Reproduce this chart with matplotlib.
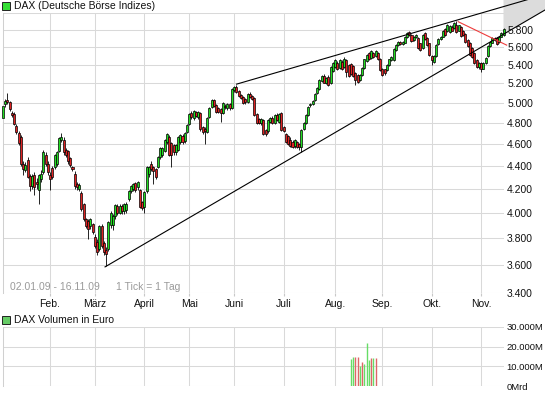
import matplotlib
matplotlib.use("Agg")
import matplotlib.pyplot as plt
import numpy as np
from matplotlib.ticker import FixedLocator, FixedFormatter, NullLocator
from matplotlib.patches import Rectangle

plt.rcParams['font.family'] = ['Liberation Sans', 'DejaVu Sans']

# ---------------- data (trading-day index 0 = 02.01.09) ----------------
opens = [4850, 4985, 5025, 5010, 4900, 4890, 4770, 4700, 4660, 4420, 4366, 4455, 4310, 4220, 4320, 4260, 4190, 4280, 4340, 4500, 4420,
         4320, 4380, 4390, 4420, 4530, 4640, 4640, 4545, 4530, 4470, 4390, 4330, 4240, 4200, 4165, 4068, 3947, 3930, 3895, 3907,
         3810, 3770, 3715, 3895, 3760, 3710, 3715, 3900, 3900, 3970, 4055, 4000, 4055, 4010, 4020, 4110, 4180, 4200, 4250, 4210, 4190, 4085,
         4050, 4180, 4330, 4420, 4390, 4370, 4390, 4480, 4500, 4530, 4620, 4660, 4610, 4590, 4520, 4545, 4620, 4670, 4630, 4715,
         4790, 4900, 4850, 4910, 4860, 4900, 4760, 4740, 4715, 4860, 4960, 5030, 4980, 4950, 4940, 4900, 4970, 4950, 4990, 4945,
         5130, 5160, 5120, 5080, 5060, 5040, 5010, 5090, 5070, 5050, 4890, 4840, 4800, 4830, 4730, 4720, 4810, 4850, 4800, 4880, 4810, 4900,
         4760, 4690, 4670, 4640, 4620, 4580, 4620, 4600, 4570, 4740, 4800, 4880, 4975, 4990, 5030, 5100, 5140, 5230, 5280, 5200, 5270, 5200, 5330,
         5380, 5420, 5370, 5430, 5380, 5450, 5400, 5410, 5390, 5310, 5290, 5240, 5290, 5370, 5440, 5530, 5480, 5530, 5500, 5530, 5470,
         5360, 5350, 5340, 5400, 5450, 5450, 5570, 5620, 5660, 5630, 5650, 5710, 5770, 5740, 5680, 5710, 5700, 5640, 5590, 5760, 5700, 5640,
         5500, 5430, 5500, 5630, 5690, 5720, 5810, 5780, 5770, 5830, 5820, 5860, 5790, 5830, 5790, 5750, 5680, 5650, 5590, 5530, 5450, 5380,
         5420, 5360, 5420, 5500, 5610, 5650, 5700, 5700, 5660, 5720, 5740]
highs = [5010, 5040, 5105, 5020, 4920, 4910, 4790, 4720, 4680, 4440, 4430, 4480, 4330, 4330, 4340, 4290, 4330, 4360, 4545, 4520, 4440,
         4340, 4400, 4510, 4530, 4665, 4700, 4660, 4560, 4540, 4480, 4400, 4350, 4260, 4250, 4180, 4080, 3960, 3950, 3960, 3920,
         3830, 3790, 3900, 3910, 3780, 3730, 3935, 4010, 3990, 4075, 4070, 4070, 4075, 4080, 4090, 4190, 4230, 4250, 4260, 4270, 4200, 4100,
         4180, 4400, 4400, 4440, 4400, 4380, 4490, 4570, 4570, 4650, 4700, 4680, 4620, 4600, 4600, 4670, 4690, 4690, 4710, 4790,
         4900, 4920, 4930, 4920, 4920, 4910, 4770, 4760, 4860, 4960, 5040, 5040, 4990, 4960, 4950, 5010, 4990, 5000, 5000, 5150,
         5170, 5185, 5130, 5090, 5070, 5050, 5100, 5110, 5080, 5060, 4900, 4850, 4850, 4840, 4740, 4840, 4860, 4870, 4890, 4900, 4900, 4910,
         4770, 4700, 4680, 4660, 4640, 4650, 4630, 4610, 4740, 4810, 4890, 4970, 5000, 5030, 5100, 5160, 5250, 5290, 5300, 5270, 5290, 5390, 5430,
         5470, 5440, 5470, 5450, 5490, 5470, 5410, 5420, 5400, 5320, 5300, 5300, 5380, 5470, 5520, 5540, 5570, 5545, 5570, 5540, 5480,
         5370, 5360, 5410, 5470, 5500, 5590, 5630, 5670, 5670, 5670, 5730, 5770, 5780, 5750, 5730, 5750, 5710, 5650, 5750, 5770, 5710, 5650,
         5510, 5510, 5630, 5700, 5730, 5800, 5820, 5870, 5850, 5850, 5890, 5900, 5860, 5840, 5800, 5760, 5690, 5660, 5600, 5540, 5460, 5430,
         5430, 5430, 5490, 5620, 5670, 5710, 5710, 5710, 5730, 5770, 5820]
lows = [4840, 4960, 4990, 4920, 4860, 4780, 4690, 4590, 4400, 4320, 4340, 4290, 4180, 4200, 4150, 4200, 4075, 4260, 4330, 4400, 4320,
        4190, 4280, 4370, 4400, 4520, 4620, 4500, 4480, 4420, 4390, 4350, 4200, 4190, 4180, 4010, 3930, 3880, 3790, 3870, 3830,
        3720, 3670, 3700, 3720, 3670, 3588, 3700, 3880, 3860, 3950, 3980, 3990, 3990, 3990, 4000, 4100, 4160, 4180, 4170, 4190, 4040, 4020,
        4000, 4160, 4300, 4350, 4236, 4280, 4380, 4460, 4480, 4520, 4600, 4490, 4390, 4500, 4500, 4530, 4600, 4600, 4610, 4700,
        4780, 4840, 4830, 4860, 4840, 4720, 4690, 4600, 4700, 4850, 4950, 4960, 4900, 4900, 4810, 4890, 4940, 4930, 4930, 4940,
        5110, 5100, 5060, 5040, 4990, 4990, 5000, 5050, 5030, 4870, 4790, 4790, 4780, 4680, 4670, 4700, 4800, 4790, 4790, 4820, 4800, 4720,
        4710, 4610, 4590, 4570, 4560, 4560, 4560, 4545, 4525, 4730, 4790, 4870, 4960, 4980, 5020, 5090, 5130, 5220, 5200, 5190, 5170, 5190, 5320,
        5370, 5340, 5360, 5340, 5370, 5270, 5270, 5290, 5270, 5180, 5210, 5230, 5280, 5360, 5430, 5450, 5470, 5480, 5490, 5450, 5330,
        5280, 5290, 5330, 5390, 5440, 5440, 5560, 5610, 5620, 5620, 5640, 5700, 5730, 5660, 5670, 5700, 5580, 5560, 5580, 5680, 5610, 5500,
        5400, 5420, 5490, 5620, 5680, 5710, 5730, 5770, 5760, 5780, 5810, 5760, 5780, 5720, 5730, 5650, 5600, 5500, 5480, 5410, 5370, 5360,
        5320, 5350, 5410, 5490, 5600, 5640, 5670, 5620, 5650, 5710, 5730]
closes = [4970, 5015, 5010, 4935, 4875, 4790, 4715, 4610, 4420, 4370, 4410, 4300, 4220, 4310, 4210, 4236, 4320, 4330, 4525, 4420, 4340,
          4280, 4300, 4500, 4520, 4655, 4660, 4520, 4500, 4440, 4410, 4375, 4220, 4210, 4230, 4027, 3947, 3895, 3868, 3947, 3845,
          3740, 3690, 3890, 3740, 3690, 3680, 3925, 3995, 3970, 4060, 4000, 4055, 4010, 4070, 4070, 4180, 4220, 4240, 4190, 4260, 4050, 4040,
          4170, 4390, 4390, 4370, 4350, 4300, 4480, 4560, 4560, 4640, 4690, 4500, 4500, 4520, 4590, 4660, 4680, 4620, 4700, 4780,
          4890, 4860, 4920, 4870, 4910, 4740, 4710, 4720, 4850, 4950, 5030, 4970, 4910, 4910, 4900, 5000, 4955, 4990, 4945, 5140,
          5160, 5110, 5070, 5050, 5000, 5010, 5090, 5060, 5040, 4880, 4800, 4800, 4840, 4690, 4690, 4830, 4850, 4800, 4880, 4830, 4890, 4730,
          4720, 4620, 4600, 4580, 4570, 4640, 4575, 4575, 4730, 4800, 4880, 4960, 4985, 5020, 5095, 5150, 5240, 5280, 5210, 5260, 5180, 5380, 5420,
          5450, 5350, 5450, 5350, 5470, 5320, 5280, 5300, 5280, 5240, 5220, 5290, 5370, 5460, 5510, 5460, 5560, 5490, 5560, 5460, 5340,
          5290, 5310, 5400, 5460, 5490, 5580, 5620, 5660, 5630, 5660, 5720, 5760, 5740, 5670, 5720, 5740, 5590, 5570, 5740, 5690, 5620, 5510,
          5450, 5500, 5620, 5690, 5720, 5790, 5740, 5860, 5840, 5790, 5880, 5770, 5850, 5730, 5740, 5660, 5610, 5510, 5490, 5420, 5380, 5420,
          5350, 5420, 5480, 5610, 5660, 5700, 5680, 5630, 5720, 5760, 5810]

month_idx = [21, 41, 63, 83, 103, 125, 148, 169, 191, 213]
month_labels = ["Feb.", "März", "April", "Mai", "Juni", "Juli", "Aug.", "Sep.", "Okt.", "Nov."]
price_ticks = [3400, 3600, 3800, 4000, 4200, 4400, 4600, 4800, 5000, 5200, 5400, 5600, 5800, 6000]
price_labels = ["3.400", "3.600", "3.800", "4.000", "4.200", "4.400", "4.600", "4.800", "5.000",
                "5.200", "5.400", "5.600", "5.800", ""]

vol_idx = [155, 156, 157, 158, 159, 160, 161, 162, 163, 164, 165, 166]
vol_values = [13700, 14700, 14700, 14700, 10100, 12100, 11100, 21900, 13200, 14200, 14200, 14200]
vol_up = [1, 1, 0, 0, 1, 0, 1, 1, 1, 0, 1, 0]
vol_ticks = [0, 10000, 20000, 30000]
vol_labels = ["0Mrd", "10.000M", "20.000M", "30.000M"]

# trend lines: (trading-day index, price) anchors
upper_trend = [(104.1, 5193), (194.7, 5855)]
lower_trend = [(45.5, 3583), (133.1, 4524)]
red_trend = [(202.8, 5895), (224.4, 5621)]

# ---------------- layout ----------------
W, H = 545, 395
fig = plt.figure(figsize=(W / 100, H / 100), dpi=100)
fig.patch.set_facecolor('white')


def fx(px):
    return px / W


def fy(py):
    return 1 - py / H


GRID = '#d9d9d9'
GREEN = '#22dd22'
RED = '#dd2222'
FS = 7.5
XMIN = -0.18
XMAX = XMIN + 501 / 2.245

ax = fig.add_axes([fx(2.5), fy(292.7), fx(503.5) - fx(2.5), fy(13) - fy(292.7)])
ax.set_yscale('log')
ax.set_ylim(3400, 6000)
ax.set_xlim(XMIN, XMAX)
ax.set_axisbelow(True)

n = len(closes)
x = np.arange(n)
o = np.array(opens, float)
c = np.array(closes, float)
h = np.array(highs, float)
l = np.array(lows, float)
up = c >= o
cols = np.where(up, GREEN, RED)

ax.vlines(x, l, h, color='black', lw=0.6, zorder=2, clip_on=False)
ax.bar(x, np.abs(c - o), bottom=np.minimum(o, c), width=0.9, color=cols,
       edgecolor='black', linewidth=0.5, zorder=3, clip_on=False)


def trend(anchors, x0, x1):
    (xa, ya), (xb, yb) = anchors
    k = (np.log(yb) - np.log(ya)) / (xb - xa)
    xs = np.array([x0, x1])
    return xs, np.exp(np.log(ya) + k * (xs - xa)), k


xe = 260
xs_u, ys_u, _ = trend(upper_trend, upper_trend[0][0], xe)
xs_l, ys_l, kl = trend(lower_trend, lower_trend[0][0], xe)

# grey corridor to the right of the plot
xf = np.linspace(XMAX, xe, 50)
yf = np.exp(np.log(lower_trend[0][1]) + kl * (xf - lower_trend[0][0]))
ax.fill_between(xf, yf, 20000, color='#dcdcdc', lw=0, zorder=0.2, clip_on=False)

ax.plot(xs_u, ys_u, color='black', lw=0.8, zorder=4, clip_on=False)
ax.plot(xs_l, ys_l, color='black', lw=0.8, zorder=4, clip_on=False)
ax.plot([p[0] for p in red_trend], [p[1] for p in red_trend], color='#ee3b3b', lw=0.8,
        zorder=4, clip_on=False)

ax.yaxis.set_major_locator(FixedLocator(price_ticks))
ax.yaxis.set_major_formatter(FixedFormatter(price_labels))
ax.yaxis.set_minor_locator(NullLocator())
ax.yaxis.tick_right()
ax.tick_params(axis='y', which='both', length=0, pad=2.6, labelsize=FS, labelcolor='#111111')
ax.set_xticks(month_idx)
ax.set_xticklabels(month_labels)
ax.tick_params(axis='x', length=2.2, color='#c8c8c8', pad=2.0, labelsize=FS, labelcolor='#111111')
ax.grid(True, color=GRID, lw=0.75)
for s in ['top', 'right', 'bottom']:
    ax.spines[s].set_visible(False)
ax.spines['left'].set_color('#d0d0d0')
ax.spines['left'].set_linewidth(0.75)

fig.text(fx(10), fy(286.5), '02.01.09 - 16.11.09', fontsize=FS, color='#9a9a9a', va='center', ha='left')
fig.text(fx(116), fy(286.5), '1 Tick = 1 Tag', fontsize=FS, color='#9a9a9a', va='center', ha='left')

# legends
fig.add_artist(Rectangle((fx(2), fy(9.5)), fx(7.5), fy(2) - fy(9.5), transform=fig.transFigure,
                         facecolor='#33dd33', edgecolor='#222222', lw=0.7))
fig.text(fx(13.5), fy(6), 'DAX (Deutsche Börse Indizes)', fontsize=FS, va='center', ha='left', color='#111111')
fig.add_artist(Rectangle((fx(2), fy(323.5)), fx(7.5), fy(316) - fy(323.5), transform=fig.transFigure,
                         facecolor='#66cc66', edgecolor='#222222', lw=0.7))
fig.text(fx(13.5), fy(320), 'DAX Volumen in Euro', fontsize=FS, va='center', ha='left', color='#111111')

# ---------------- volume panel ----------------
av = fig.add_axes([fx(2.5), fy(386.3), fx(503.5) - fx(2.5), fy(326.8) - fy(386.3)])
av.set_xlim(XMIN, XMAX)
av.set_ylim(0, 30000)
av.set_axisbelow(True)
vcols = ['#66dd66' if u else '#dd6666' for u in vol_up]
av.vlines(vol_idx, 0, vol_values, colors=vcols, lw=1.0, zorder=2)
av.set_xticks(month_idx)
av.set_xticklabels([])
av.yaxis.set_major_locator(FixedLocator(vol_ticks))
av.yaxis.set_major_formatter(FixedFormatter(vol_labels))
av.yaxis.tick_right()
av.tick_params(axis='y', length=0, pad=2.2, labelsize=6.8, labelcolor='#111111')
av.tick_params(axis='x', length=0)
av.grid(True, color=GRID, lw=0.75)
for s in ['top', 'right', 'bottom']:
    av.spines[s].set_visible(False)
av.spines['left'].set_color('#d0d0d0')
av.spines['left'].set_linewidth(0.75)

fig.savefig('out.png', dpi=100)
